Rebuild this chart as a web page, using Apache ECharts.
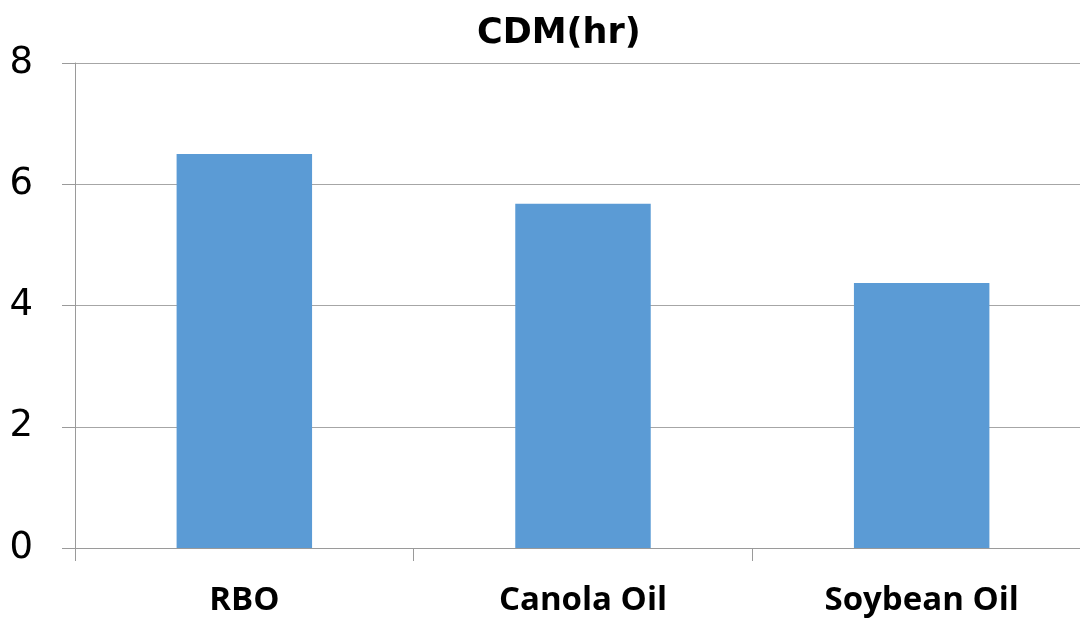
<!DOCTYPE html>
<html>
<head>
<meta charset="utf-8">
<script src="https://cdn.jsdelivr.net/npm/echarts@6/dist/echarts.min.js"></script>
<style>
  html, body { margin: 0; padding: 0; background: #fff; overflow: hidden; width: 1080px; height: 619px; }
  /* the plot runs a little past the visible right edge */
  #chart { width: 1091px; height: 619px; }
</style>
</head>
<body>
<div id="chart"></div>
<script>
// Oil types and their CDM induction times (hours)
const categories = ['RBO', 'Canola Oil', 'Soybean Oil'];
const cdmHours = [6.5, 5.68, 4.37];
const chartTitle = 'CDM(hr)';
const yMin = 0, yMax = 8, yStep = 2;

const chart = echarts.init(document.getElementById('chart'), null, { renderer: 'canvas' });

chart.setOption({
  backgroundColor: '#ffffff',
  animation: false,
  title: {
    text: chartTitle,
    left: 472,
    top: 11,
    textStyle: {
      fontFamily: 'DejaVu Sans',
      fontWeight: 'bold',
      fontSize: 35,
      color: '#000'
    }
  },
  grid: { left: 75, right: 0, top: 63, bottom: 71, containLabel: false },
  xAxis: {
    type: 'category',
    data: categories,
    axisLine: { show: true, lineStyle: { color: '#9a9a9a', width: 1 } },
    axisTick: { show: true, length: 13, lineStyle: { color: '#9a9a9a' } },
    axisLabel: {
      margin: 36,
      fontFamily: 'Open Sans',
      fontWeight: 'bold',
      fontSize: 33,
      color: '#000'
    }
  },
  yAxis: {
    type: 'value',
    min: yMin,
    max: yMax,
    interval: yStep,
    axisLine: { show: true, lineStyle: { color: '#9a9a9a', width: 1 } },
    axisTick: { show: true, length: 13, lineStyle: { color: '#9a9a9a' } },
    splitLine: { show: true, lineStyle: { color: '#a6a6a6', width: 1 } },
    axisLabel: {
      margin: 42,
      fontFamily: 'DejaVu Sans',
      fontSize: 37,
      color: '#000',
      padding: [0, 0, 12, 0]
    }
  },
  series: [{
    type: 'bar',
    data: cdmHours,
    barWidth: '40%',
    itemStyle: { color: '#5b9bd5' }
  }]
});
</script>
</body>
</html>
